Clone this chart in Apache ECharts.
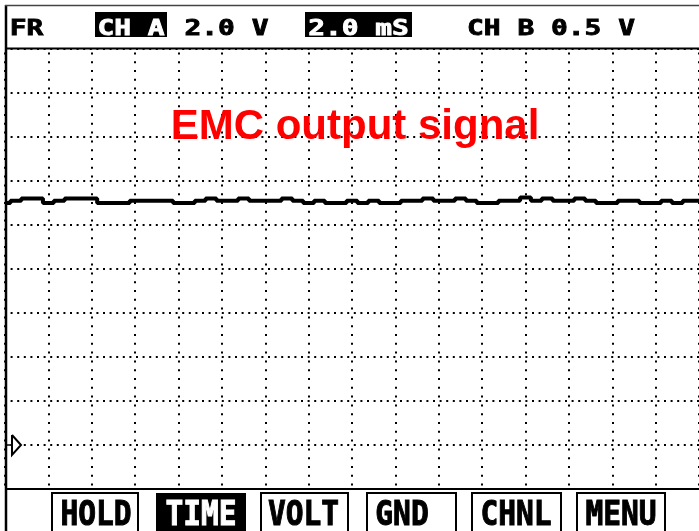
<!DOCTYPE html>
<html>
<head>
<meta charset="utf-8">
<script src="https://cdn.jsdelivr.net/npm/echarts@6/dist/echarts.min.js"></script>
<style>
html,body{margin:0;padding:0;background:#fff;}
#chart{width:699px;height:531px;}
</style>
</head>
<body>
<div id="chart"></div>
<script>
// time in ms (2.0 ms/div)
const timeMs = [0,0.5,1,1.5,2,2.5,3,3.5,4,4.5,5,5.5,6,6.5,7,7.5,8,8.5,9,9.5,10,10.5,11,11.5,12,12.5,13,13.5,14,14.5,15,15.5,16,16.5,17,17.5,18,18.5,19,19.5,20,20.5,21,21.5,22,22.5,23,23.5,24,24.5,25,25.5,26,26.5,27,27.5,28,28.5,29,29.5,30,30.5,31,31.5,32];
// channel A voltage (2.0 V/div)
const chA = [11.0,11.1,11.2,11.2,11.0,11.1,11.2,11.2,11.2,11.0,11.0,11.0,11.1,11.1,11.1,11.1,11.0,11.0,11.1,11.2,11.1,11.1,11.2,11.1,11.1,11.1,11.2,11.1,11.0,11.1,11.0,11.0,11.1,11.0,11.1,11.0,11.0,11.1,11.1,11.2,11.1,11.1,11.2,11.1,11.0,11.0,11.1,11.1,11.25,11.1,11.2,11.1,11.1,11.2,11.1,11.0,11.0,11.1,11.1,11.0,11.0,11.1,11.0,11.1,11.1];
const groundLevel = 0;
const titleText = 'EMC output signal';
const headerTexts = ['FR', 'CH A', '2.0 V', '2.0 mS', 'CH B 0.5 V'];
const headerInverted = [false, true, false, true, false];
const buttonTexts = ['HOLD', 'TIME', 'VOLT', 'GND', 'CHNL', 'MENU'];
const buttonInverted = [false, true, false, false, false, false];

const chart = echarts.init(document.getElementById('chart'), null, {renderer: 'canvas'});

const headerCenters = [26.5, 131, 226.5, 358.5, 551];
const headerBoxes = [null, [95, 167], null, [305, 412], null];
const buttonBoxes = [[52,138],[156,246],[261,348],[367,456],[472,561],[577,665]];
const buttonTextCenters = [96, 201, 303.5, 402, 516, 621];

const graphics = [];
// header
headerTexts.forEach((t, i) => {
  if (headerInverted[i]) {
    const b = headerBoxes[i];
    graphics.push({type:'rect', shape:{x:b[0], y:12, width:b[1]-b[0], height:25}, style:{fill:'#000'}, z:10});
  }
  const c = headerInverted[i] ? '#fff' : '#000';
  graphics.push({type:'text', x: headerCenters[i], y: 29.5, scaleX: 1.36, z: 11,
    style:{text:t, fill: c, stroke: c, lineWidth: 0.8, font:'bold 20.5px "DejaVu Sans Mono"', textAlign:'center', textVerticalAlign:'middle'}});
});
// buttons
buttonTexts.forEach((t, i) => {
  const b = buttonBoxes[i];
  graphics.push({type:'rect', shape:{x:b[0], y:493, width:b[1]-b[0], height:45},
    style: buttonInverted[i] ? {fill:'#000'} : {fill:'#fff', stroke:'#000', lineWidth:2}, z:10});
  const c = buttonInverted[i] ? '#fff' : '#000';
  graphics.push({type:'text', x: buttonTextCenters[i], y: 516, scaleX: 0.87, z: 11,
    style:{text:t, fill: c, stroke: c, lineWidth: 1, font:'bold 34px "DejaVu Sans Mono"', textAlign:'center', textVerticalAlign:'middle'}});
});
// frame lines
graphics.push({type:'line', shape:{x1:6, y1:5, x2:6, y2:531}, style:{stroke:'#000', lineWidth:2.5}, z:12});
graphics.push({type:'line', shape:{x1:5, y1:5.5, x2:699, y2:5.5}, style:{stroke:'#444', lineWidth:1.5}, z:12});
graphics.push({type:'line', shape:{x1:5, y1:48.5, x2:699, y2:48.5}, style:{stroke:'#000', lineWidth:2}, z:12});
graphics.push({type:'line', shape:{x1:5, y1:489, x2:699, y2:489}, style:{stroke:'#000', lineWidth:2}, z:12});
// title
graphics.push({type:'text', x:355, y:127, z:12,
  style:{text:titleText, fill:'#ff0000', font:'bold 42px "Liberation Sans"', textAlign:'center', textVerticalAlign:'middle'}});

const option = {
  animation: false,
  backgroundColor: '#fff',
  grid: {left: 5, right: -10, top: 49, bottom: 42, containLabel: false},
  xAxis: {
    type: 'value', min: 0, max: 32, interval: 2,
    axisLine: {show: false}, axisTick: {show: false}, axisLabel: {show: false},
    splitLine: {show: true, lineStyle: {color: '#000', width: 2, type: [2, 6.8], dashOffset: 5.4}}
  },
  yAxis: {
    type: 'value', min: -2, max: 18, interval: 2,
    axisLine: {show: false}, axisTick: {show: false}, axisLabel: {show: false},
    splitLine: {show: true, lineStyle: {color: '#000', width: 2, type: [2, 4.6], dashOffset: 1}}
  },
  series: [{
    type: 'line', step: 'middle', symbol: 'none',
    data: timeMs.map((t, i) => [t, chA[i]]),
    lineStyle: {color: '#000', width: 4}, z: 5
  }],
  graphic: graphics
};
chart.setOption(option);

// ground marker at 0 V
const gy = chart.convertToPixel({yAxisIndex: 0}, groundLevel);
graphics.push({type:'polyline', shape:{points:[[12, gy-10],[21, gy],[12, gy+10],[12, gy-10]]}, style:{stroke:'#000', fill:'#fff', lineWidth:2}, z:12});
graphics.push({type:'line', shape:{x1:6, y1:gy, x2:12, y2:gy}, style:{stroke:'#000', lineWidth:1.5}, z:12});
chart.setOption({graphic: graphics}, {replaceMerge: ['graphic']});
</script>
</body>
</html>
